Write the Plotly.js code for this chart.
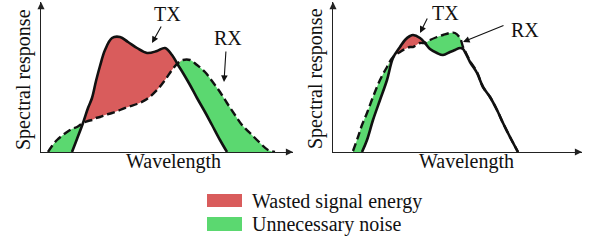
<!DOCTYPE html>
<html><head><meta charset="utf-8">
<script src="https://cdn.plot.ly/plotly-3.0.1.min.js"></script>
<style>html,body{margin:0;padding:0;background:#fff}#chart{width:593px;height:242px}</style>
</head><body><div id="chart"></div>
<script>
// Left panel: poorly matched TX / RX spectra (arbitrary units)
const leftWavelength = [7,11,16,22,29,31,36,42,47,51,55,59,64,71,79,87,96,106,116,124,131,137,142,149,156,164,171,179,186,194,201,209,219,227,234];
const leftTX = [null,null,null,null,null,0,13,29,44,54,71,86,102,114,115,110,104,99,101,104,97,87,79,67,54,40,27,12,0,null,null,null,null,null,null];
const leftRX = [0,6,12,17,22,23,25,29,31,32,34,35,37,39,42,45,48,53,62,72,82,89,92,92,87,80,71,60,49,37,27,19,9,2,0];

// Right panel: well matched TX / RX spectra
const rightWavelength = [20,25,29,34,40,47,54,60,67,72,77,80,87,92,97,104,110,117,122,127,130,132,137,144,150,157,164,170,177,185];
const rightTX = [null,null,0,12,32,52,72,94,105,112,116,117,114,109,103,99,97,100,102,104,103,100,90,79,65,55,42,29,15,0];
const rightRX = [1,15,27,39,55,72,85,95,100,103,105,105,109,109,112,115,117,119,119,114,105,101,91,80,65,55,42,29,15,0];

const legendLabels = ["Wasted signal energy", "Unnecessary noise"];
const curveLabels = ["TX", "RX"];
const axisLabels = {x: "Wavelength", y: "Spectral response"};

const RED = '#d95c5c', GREEN = '#5bd870', INK = '#111';
const W = 593, H = 242;
const FAMILY = 'Liberation Serif';

function fillTraces(x, tx, rx, xa, ya) {
  const t = tx.map(v => v == null ? 0 : v);
  const r = rx.map(v => v == null ? 0 : v);
  const top = t.map((v, i) => Math.max(v, r[i]));
  const xs = x.concat(x.slice().reverse());
  const common = {type:'scatter', mode:'lines', fill:'toself', xaxis:xa, yaxis:ya,
    line:{width:0, shape:'spline', smoothing:1}, hoverinfo:'skip', showlegend:false};
  return [
    Object.assign({}, common, {x: xs, y: top.concat(r.slice().reverse()), fillcolor: RED, name: legendLabels[0]}),
    Object.assign({}, common, {x: xs, y: top.concat(t.slice().reverse()), fillcolor: GREEN, name: legendLabels[1]})
  ];
}
function lineTraces(x, tx, rx, xa, ya) {
  return [
    {type:'scatter', mode:'lines', x:x, y:rx, xaxis:xa, yaxis:ya, name:'RX',
     line:{color:INK, width:2.4, dash:'8px,4px', shape:'spline', smoothing:1}, connectgaps:false, showlegend:false},
    {type:'scatter', mode:'lines', x:x, y:tx, xaxis:xa, yaxis:ya, name:'TX',
     line:{color:INK, width:2.6, shape:'spline', smoothing:1}, connectgaps:false, showlegend:false}
  ];
}

const data = [].concat(
  fillTraces(leftWavelength, leftTX, leftRX, 'x', 'y'),
  lineTraces(leftWavelength, leftTX, leftRX, 'x', 'y'),
  fillTraces(rightWavelength, rightTX, rightRX, 'x2', 'y2'),
  lineTraces(rightWavelength, rightTX, rightRX, 'x2', 'y2')
);

const axBase = {showline:true, linecolor:'#222', linewidth:1.4, showgrid:false, zeroline:false,
  showticklabels:false, ticks:'', fixedrange:true};
const yDom = [90/H, 240/H];

const ann = [];
function txt(text, xref, yref, x, y, extra) {
  ann.push(Object.assign({text:text, xref:xref, yref:yref, x:x, y:y, showarrow:false,
    xanchor:'center', yanchor:'middle', font:{family:FAMILY, size:20, color:INK}}, extra || {}));
}
function arrow(xref, yref, x, y, ax, ay, opts) {
  ann.push(Object.assign({text:'', xref:xref, yref:yref, x:x, y:y, axref:xref, ayref:yref, ax:ax, ay:ay,
    showarrow:true, arrowhead:2, arrowsize:1.2, arrowwidth:1.1, arrowcolor:INK, font:{family:FAMILY, size:1}}, opts || {}));
}
// axis arrowheads
arrow('x','y',252,0,244,0,{arrowcolor:'#222', arrowsize:1.1, arrowwidth:1.3});
arrow('x','y',0,150,0,142,{arrowcolor:'#222', arrowsize:1.1, arrowwidth:1.3});
arrow('x2','y2',249,0,241,0,{arrowcolor:'#222', arrowsize:1.1, arrowwidth:1.3});
arrow('x2','y2',0,150,0,142,{arrowcolor:'#222', arrowsize:1.1, arrowwidth:1.3});
// curve label pointers
arrow('x','y',111,109,121,127);
arrow('x','y',183,70,185,102);
arrow('x2','y2',87,119,95,135);
arrow('x2','y2',130,110,172,127);
// curve labels
txt(curveLabels[0],'x','y',126,138);
txt(curveLabels[1],'x','y',187,114);
txt(curveLabels[0],'x2','y2',112,139);
txt(curveLabels[1],'x2','y2',192,122);
// axis labels
txt(axisLabels.x,'paper','paper',173/W,1-161/H);
txt(axisLabels.x,'paper','paper',466/W,1-161/H);
txt(axisLabels.y,'paper','paper',23/W,1-80/H,{textangle:-90});
txt(axisLabels.y,'paper','paper',315/W,1-79/H,{textangle:-90});
// legend text
txt(legendLabels[0],'paper','paper',250/W,1-201/H,{xanchor:'left'});
txt(legendLabels[1],'paper','paper',250/W,1-224/H,{xanchor:'left'});

const shapes = [
  {type:'rect', xref:'paper', yref:'paper', x0:207/W, x1:242/W, y0:1-207/H, y1:1-194/H, fillcolor:RED, line:{width:0}},
  {type:'rect', xref:'paper', yref:'paper', x0:207/W, x1:242/W, y0:1-231/H, y1:1-217/H, fillcolor:GREEN, line:{width:0}}
];

const layout = {
  width:W, height:H, margin:{l:0,r:0,t:0,b:0}, showlegend:false,
  paper_bgcolor:'#fff', plot_bgcolor:'rgba(0,0,0,0)', font:{family:FAMILY, size:20, color:INK},
  xaxis:Object.assign({}, axBase, {domain:[41/W, 293/W], range:[0,252], anchor:'y'}),
  yaxis:Object.assign({}, axBase, {domain:yDom, range:[0,150], anchor:'x'}),
  xaxis2:Object.assign({}, axBase, {domain:[333/W, 582/W], range:[0,249], anchor:'y2'}),
  yaxis2:Object.assign({}, axBase, {domain:yDom, range:[0,150], anchor:'x2'}),
  annotations:ann, shapes:shapes
};
Plotly.newPlot('chart', data, layout, {staticPlot:true, displayModeBar:false});
</script></body></html>
